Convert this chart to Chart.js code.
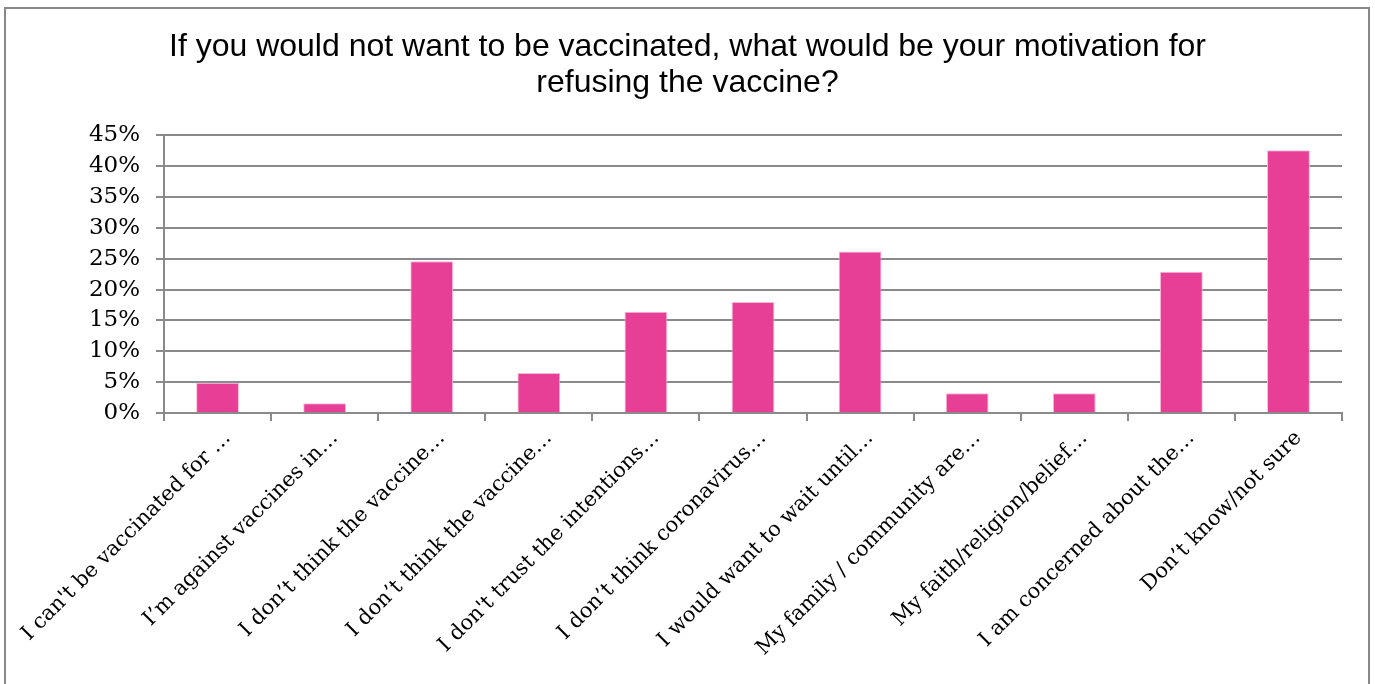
<!DOCTYPE html>
<html>
<head>
<meta charset="utf-8">
<script src="https://cdn.jsdelivr.net/npm/chart.js@4"></script>
<style>
  html, body { margin: 0; padding: 0; background: #fff; }
  #wrap { position: relative; width: 1375px; height: 684px; overflow: hidden; }
  #frame { position: absolute; left: 4px; top: 7px; width: 1366px; height: 720px;
           border: 2px solid #888; border-bottom: none; box-sizing: border-box; }
  canvas { position: absolute; left: 0; top: 0; }
</style>
</head>
<body>
<div id="wrap">
  <div id="frame"></div>
  <canvas id="c" width="1375" height="684"></canvas>
</div>
<script>
const titleLines = [
  'If you would not want to be vaccinated, what would be your motivation for',
  'refusing the vaccine?'
];
const categories = [
  'I can\'t be vaccinated for …',
  'I’m against vaccines in…',
  'I don’t think the vaccine…',
  'I don’t think the vaccine…',
  'I don\'t trust the intentions…',
  'I don’t think coronavirus…',
  'I would want to wait until…',
  'My family / community are…',
  'My faith/religion/belief…',
  'I am concerned about the…',
  'Don’t know/not sure'
];
const values = [4.9, 1.6, 24.6, 6.5, 16.4, 18.0, 26.2, 3.2, 3.2, 22.9, 42.6];
const yTicks = [0, 5, 10, 15, 20, 25, 30, 35, 40, 45];

const gridColor = '#8a8a8a';
const serif = 'DejaVu Serif';

new Chart(document.getElementById('c'), {
  type: 'bar',
  data: {
    labels: categories,
    datasets: [{
      data: values,
      backgroundColor: '#E73E96',
      borderColor: '#F6B9D6',
      borderWidth: 1,
      barPercentage: 0.4,
      categoryPercentage: 1.0
    }]
  },
  options: {
    responsive: false,
    animation: false,
    devicePixelRatio: 1,
    layout: { padding: { left: 33, right: 33, top: 0, bottom: 0 } },
    plugins: {
      legend: { display: false },
      tooltip: { enabled: false },
      title: {
        display: true,
        text: titleLines,
        color: '#000',
        font: { family: 'Liberation Sans', size: 32, weight: 'normal', lineHeight: 1.1 },
        padding: { top: 30, bottom: 35 }
      }
    },
    scales: {
      x: {
        offset: true,
        grid: { display: true, drawOnChartArea: false, drawTicks: true, tickLength: 8, color: gridColor, lineWidth: 2, offset: true },
        border: { display: true, color: gridColor, width: 2 },
        ticks: {
          color: '#000',
          font: { family: serif, size: 21 },
          minRotation: 45, maxRotation: 45,
          autoSkip: false,
          padding: 5,
          labelOffset: 10
        },
        afterFit(s) { s.height = 271; s.paddingLeft = 0; s.paddingRight = 0; }
      },
      y: {
        min: 0, max: 45,
        afterBuildTicks(s) { s.ticks = yTicks.map(v => ({ value: v })); },
        grid: { color: gridColor, lineWidth: 2, tickLength: 8, drawTicks: true },
        border: { display: true, color: gridColor, width: 2 },
        ticks: {
          color: '#000',
          font: { family: serif, size: 23 },
          padding: 16,
          callback: v => v + '%'
        },
        afterFit(s) { s.width = 131; s.paddingTop = 0; s.paddingBottom = 0; }
      }
    }
  }
});
</script>
</body>
</html>
